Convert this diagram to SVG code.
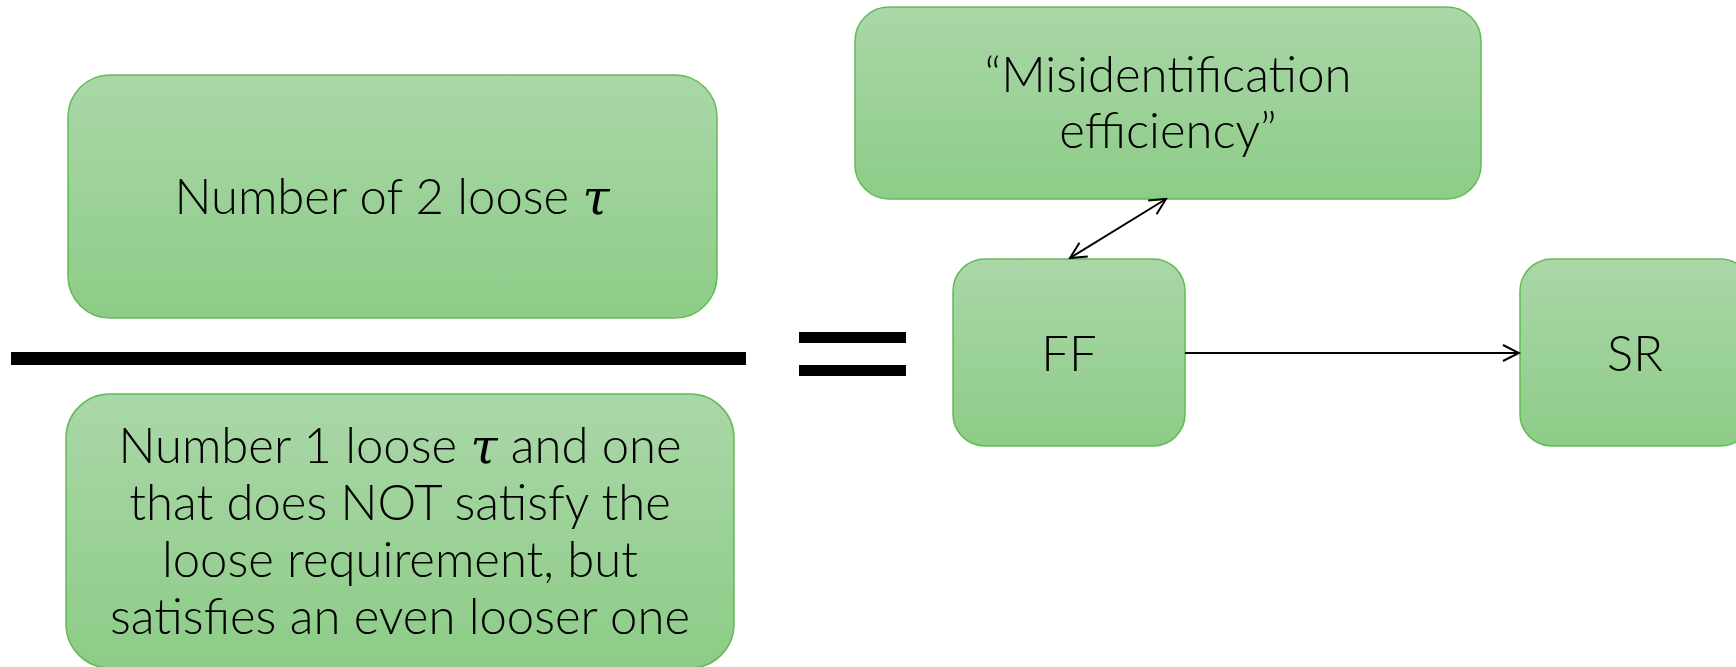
<svg xmlns="http://www.w3.org/2000/svg" width="1736" height="667" viewBox="0 0 1736 667">
  <defs>
    <linearGradient id="boxFill" x1="0" y1="0" x2="0" y2="1">
      <stop offset="0" stop-color="#aad7a8"/>
      <stop offset="1" stop-color="#8dcc87"/>
    </linearGradient>
    <marker id="open" viewBox="0 0 20 20" refX="18" refY="10" markerWidth="20" markerHeight="20" markerUnits="userSpaceOnUse" orient="auto-start-reverse">
      <path d="M2,2 L18,10 L2,18" fill="none" stroke="#000" stroke-width="2"/>
    </marker>
  </defs>
  <style>
    .box { fill: url(#boxFill); stroke: #62bb55; stroke-width: 1.5; }
    .lbl { font-family: Lato, "Open Sans", "Liberation Sans", sans-serif; font-weight: 300; font-size: 49px; fill: #000; text-anchor: middle; }
    .tau { font-family: "DejaVu Serif", "Liberation Serif", serif; font-style: italic; font-weight: normal; }
    .conn { stroke: #000; stroke-width: 2; fill: none; }
  </style>
  <rect width="1736" height="667" fill="#fff"/>

  <!-- numerator -->
  <g id="numerator">
    <rect class="box" x="68" y="75" width="649" height="243" rx="42"/>
    <text class="lbl" x="392" y="214">Number of 2 loose <tspan class="tau">τ</tspan></text>
  </g>

  <!-- fraction bar -->
  <rect x="11" y="352" width="735" height="13" fill="#000"/>

  <!-- denominator -->
  <g id="denominator">
    <rect class="box" x="66" y="394" width="668" height="274" rx="44"/>
    <text class="lbl" x="400" y="463">Number 1 loose <tspan class="tau">τ</tspan> and one</text>
    <text class="lbl" x="400" y="520">that does NOT satisfy the</text>
    <text class="lbl" x="400" y="577">loose requirement, but</text>
    <text class="lbl" x="400" y="634">satisfies an even looser one</text>
  </g>

  <!-- equals sign -->
  <rect x="799" y="332" width="107" height="11" fill="#000"/>
  <rect x="799" y="365" width="107" height="11" fill="#000"/>

  <g id="misid">
    <rect class="box" x="855" y="7" width="626" height="192" rx="34"/>
    <text class="lbl" x="1168" y="92">“Misidentification</text>
    <text class="lbl" x="1168" y="148">efficiency”</text>
  </g>

  <g id="FF">
    <rect class="box" x="953" y="259" width="232" height="187" rx="32"/>
    <text class="lbl" x="1069" y="371">FF</text>
  </g>

  <g id="SR">
    <rect class="box" x="1520" y="259" width="232" height="187" rx="32"/>
    <text class="lbl" x="1635" y="371">SR</text>
  </g>

  <g id="connectors">
    <line class="conn" x1="1166" y1="199" x2="1070" y2="258" marker-start="url(#open)" marker-end="url(#open)"/>
    <line class="conn" x1="1185" y1="353" x2="1519" y2="353" marker-end="url(#open)"/>
  </g>
</svg>
